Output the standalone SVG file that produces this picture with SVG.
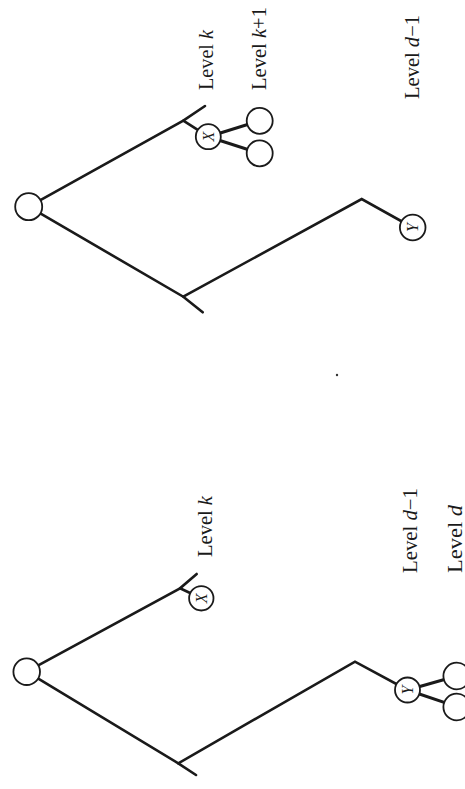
<svg xmlns="http://www.w3.org/2000/svg" width="465" height="789" viewBox="0 0 465 789">
  <style>
    .edge { fill: none; stroke: #1a1a1a; stroke-width: 2.6; stroke-linecap: round; stroke-linejoin: miter; }
    .cedge { fill: none; stroke: #1a1a1a; stroke-width: 3; }
    .node { fill: #ffffff; stroke: #1a1a1a; stroke-width: 1.8; }
    .lbl { font-family: "Liberation Serif", "Times New Roman", serif; font-size: 20px; fill: #1a1a1a; }
    .nl { font-family: "Liberation Serif", "Times New Roman", serif; font-size: 16px; font-style: italic; fill: #1a1a1a; }
    .it { font-style: italic; }
  </style>
  <rect width="465" height="789" fill="#ffffff"/>

  <g id="connectors">
    <!-- top diagram -->
    <polyline class="edge" points="28.7,206.7 183.3,120.7 205,106"/>
    <line class="edge" x1="183.3" y1="120.7" x2="208.3" y2="136.7"/>
    <line class="cedge" x1="208.3" y1="136.7" x2="259.7" y2="120.8"/>
    <line class="cedge" x1="208.3" y1="136.7" x2="259.7" y2="153.3"/>
    <polyline class="edge" points="28.7,206.7 183.3,296.7 202.7,312.3"/>
    <polyline class="edge" points="183.3,296.7 361.7,199 412.7,227.5"/>
    <!-- bottom diagram -->
    <polyline class="edge" points="26.7,671.7 180,588.3 196.7,574"/>
    <line class="edge" x1="180" y1="588.3" x2="201.3" y2="598.3"/>
    <polyline class="edge" points="26.7,671.7 178.3,763.3 196,775"/>
    <polyline class="edge" points="178.3,763.3 355,661.7 407.5,690"/>
    <line class="cedge" x1="407.5" y1="690" x2="456.7" y2="676"/>
    <line class="cedge" x1="407.5" y1="690" x2="456.7" y2="706.7"/>
  </g>

  <!-- top diagram nodes -->
  <g id="top-root"><circle class="node" cx="28.7" cy="206.7" r="13.5"/></g>
  <g id="top-X">
    <circle class="node" cx="208.3" cy="136.7" r="12.5"/>
    <text class="nl" x="208.3" y="136.7" text-anchor="middle" dominant-baseline="central" transform="rotate(-90 208.3 136.7)">X</text>
  </g>
  <g id="top-X-child1"><circle class="node" cx="259.7" cy="120.8" r="13"/></g>
  <g id="top-X-child2"><circle class="node" cx="259.7" cy="153.3" r="13"/></g>
  <g id="top-Y">
    <circle class="node" cx="412.7" cy="227.5" r="12.8"/>
    <text class="nl" x="412.7" y="227.5" text-anchor="middle" dominant-baseline="central" transform="rotate(-90 412.7 227.5)">Y</text>
  </g>

  <!-- bottom diagram nodes -->
  <g id="bottom-root"><circle class="node" cx="26.7" cy="671.7" r="13.3"/></g>
  <g id="bottom-X">
    <circle class="node" cx="201.3" cy="598.3" r="12.2"/>
    <text class="nl" x="201.3" y="598.3" text-anchor="middle" dominant-baseline="central" transform="rotate(-90 201.3 598.3)">X</text>
  </g>
  <g id="bottom-Y">
    <circle class="node" cx="407.5" cy="690" r="12.5"/>
    <text class="nl" x="407.5" y="690" text-anchor="middle" dominant-baseline="central" transform="rotate(-90 407.5 690)">Y</text>
  </g>
  <g id="bottom-Y-child1"><circle class="node" cx="456.7" cy="676" r="13.3"/></g>
  <g id="bottom-Y-child2"><circle class="node" cx="456.7" cy="707" r="13.3"/></g>

  <!-- labels -->
  <g id="labels">
    <text class="lbl" transform="translate(212.5,90) rotate(-90)" textLength="60" lengthAdjust="spacingAndGlyphs">Level <tspan class="it">k</tspan></text>
    <text class="lbl" transform="translate(265.5,90) rotate(-90)" textLength="83" lengthAdjust="spacingAndGlyphs">Level <tspan class="it">k</tspan>+1</text>
    <text class="lbl" transform="translate(419,99) rotate(-90)" textLength="84" lengthAdjust="spacingAndGlyphs">Level <tspan class="it">d</tspan>−1</text>

    <text class="lbl" transform="translate(211.5,557) rotate(-90)" textLength="61" lengthAdjust="spacingAndGlyphs">Level <tspan class="it">k</tspan></text>
    <text class="lbl" transform="translate(417,573) rotate(-90)" textLength="85" lengthAdjust="spacingAndGlyphs">Level <tspan class="it">d</tspan>−1</text>
    <text class="lbl" transform="translate(462,573) rotate(-90)" textLength="68" lengthAdjust="spacingAndGlyphs">Level <tspan class="it">d</tspan></text>
  </g>

  <circle cx="337" cy="375" r="1.2" fill="#333333"/>
</svg>
